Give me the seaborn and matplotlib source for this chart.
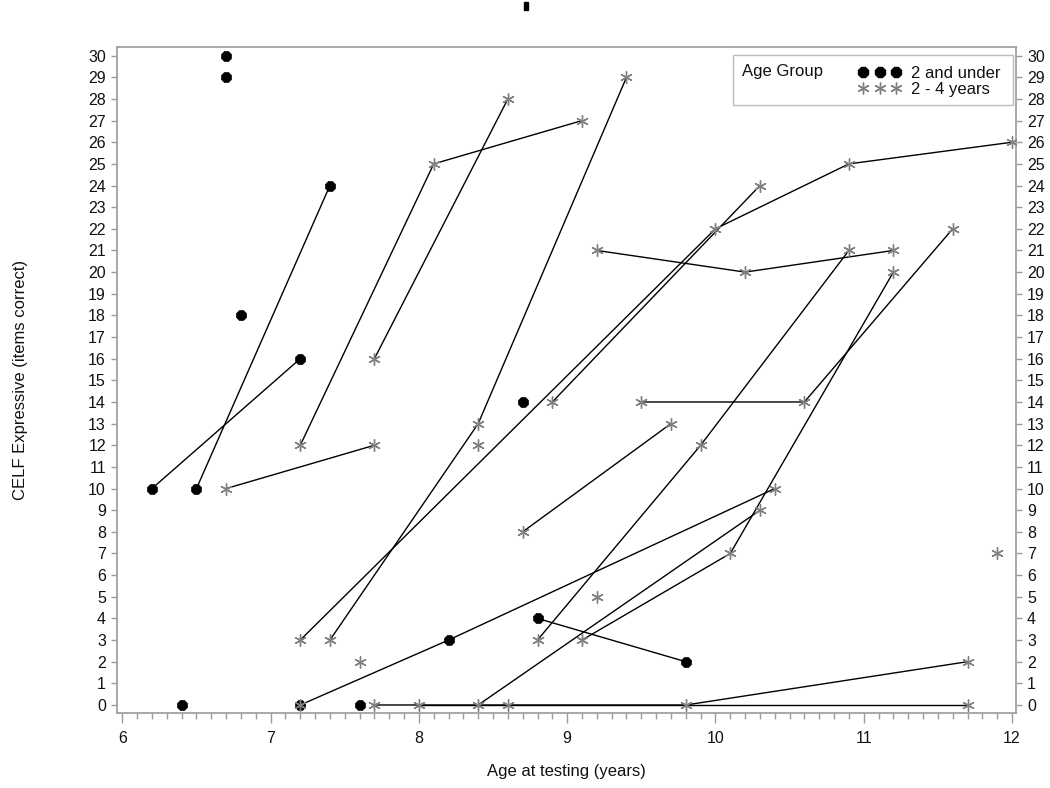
import matplotlib
matplotlib.use("Agg")
import matplotlib.pyplot as plt
from matplotlib.lines import Line2D
from matplotlib.patches import Rectangle
from matplotlib.ticker import MultipleLocator
import numpy as np
import pandas as pd
import seaborn as sns

# ---- data ----
subject = [1, 2, 3, 3, 4, 5, 5, 6, 7, 8,
           9, 9, 9, 10,
           11, 11, 12, 12, 12, 13, 13, 14, 14, 14, 15,
           16, 16, 16, 16, 17, 17, 18, 18, 18, 19, 19, 19,
           20, 20, 20, 21, 21, 22, 23, 24, 25, 25,
           26, 26, 26, 27, 27, 27, 28, 28, 28, 29, 29]
age = [6.7, 6.7, 6.5, 7.4, 6.8, 6.2, 7.2, 6.4, 7.6, 8.7,
       7.2, 8.2, 10.4, 7.2,
       6.7, 7.7, 7.2, 8.1, 9.1, 7.7, 8.6, 7.4, 8.4, 9.4, 8.4,
       7.2, 10.0, 10.9, 12.0, 8.9, 10.3, 9.2, 10.2, 11.2, 8.8, 9.9, 10.9,
       9.5, 10.6, 11.6, 8.7, 9.7, 9.2, 7.6, 11.9, 8.4, 10.3,
       9.1, 10.1, 11.2, 7.7, 9.8, 11.7, 8.0, 8.6, 11.7, 8.8, 9.8]
score = [30, 29, 10, 24, 18, 10, 16, 0, 0, 14,
         0, 3, 10, 0,
         10, 12, 12, 25, 27, 16, 28, 3, 13, 29, 12,
         3, 22, 25, 26, 14, 24, 21, 20, 21, 3, 12, 21,
         14, 14, 22, 8, 13, 5, 2, 7, 0, 9,
         3, 7, 20, 0, 0, 2, 0, 0, 0, 4, 2]
G1, G2 = "2 and under", "2 - 4 years"
group = [G1, G1, G1, G1, G1, G1, G1, G1, G1, G1,
         G1, G1, G2, G2,
         G2, G2, G2, G2, G2, G2, G2, G2, G2, G2, G2,
         G2, G2, G2, G2, G2, G2, G2, G2, G2, G2, G2, G2,
         G2, G2, G2, G2, G2, G2, G2, G2, G2, G2,
         G2, G2, G2, G2, G2, G2, G2, G2, G2, G1, G1]
legend_title = "Age Group"
x_label = "Age at testing (years)"
y_label = "CELF Expressive (items correct)"

df = pd.DataFrame({"subject": subject, "age": age, "score": score, "group": group})

sns.set_style("white")
plt.rcParams["font.family"] = ["Liberation Sans", "DejaVu Sans"]

fig = plt.figure(figsize=(10.5, 7.88), dpi=100)
ax = fig.add_axes([117 / 1050, 1 - 713 / 788, 899 / 1050, 666 / 788])

ast = (6, 2, 0)
gray = "#808080"

sns.lineplot(data=df, x="age", y="score", units="subject", estimator=None,
             sort=False, color="black", lw=1.0, ax=ax, legend=False)
d1 = df[df.group == G1]
d2 = df[df.group == G2]
sns.scatterplot(data=d1, x="age", y="score", marker="8", color="black",
                s=60, edgecolor="black", linewidth=0.5, ax=ax, legend=False, zorder=3)
sns.scatterplot(data=d2, x="age", y="score", marker=ast, color=gray,
                s=70, linewidth=1.0, ax=ax, legend=False, zorder=4)

ax.set_xlim(5.964, 12.027)
ax.set_ylim(-0.37, 30.40)
ax.xaxis.set_major_locator(MultipleLocator(1))
ax.xaxis.set_minor_locator(MultipleLocator(0.1))
ax.yaxis.set_major_locator(MultipleLocator(1))

spine_c = "#9a9a9a"
for s in ax.spines.values():
    s.set_color(spine_c)
    s.set_linewidth(1.2)

ax.tick_params(axis="x", which="major", direction="out", length=7, width=1,
               color=spine_c, labelsize=11.5, pad=6, labelcolor="#111111",
               bottom=True)
ax.tick_params(axis="x", which="minor", direction="out", length=4, width=1,
               color=spine_c, bottom=True)
ax.tick_params(axis="y", which="major", direction="out", length=4, width=1,
               color=spine_c, labelsize=11.5, pad=4, labelcolor="#111111",
               left=True, right=True, labelleft=True, labelright=True)

ax.set_xlabel(x_label, fontsize=12, color="#111111")
ax.set_ylabel(y_label, fontsize=12, color="#111111")
ax.xaxis.set_label_coords(0.5, -0.0765)
ax.yaxis.set_label_coords(-0.0989, 0.5)

# legend
handles = [Line2D([], [], marker="8", color="black", linestyle="none", markersize=7.5),
           Line2D([], [], marker=ast, color=gray, linestyle="none", markersize=8.5,
                  markeredgewidth=1.0)]
leg = ax.legend(handles, [G1, G2], numpoints=3, frameon=False, loc="upper right",
                bbox_to_anchor=(0.9833, 0.972), borderpad=0, borderaxespad=0,
                handlelength=2.6, handletextpad=0.6, fontsize=12, labelspacing=0.1)
for t in leg.get_texts():
    t.set_color("#111111")
ax.text(0.695, 0.9625, legend_title, transform=ax.transAxes, fontsize=12,
        va="center", ha="left", color="#111111")
ax.add_patch(Rectangle((0.685, 0.913), 0.3117, 0.075, transform=ax.transAxes,
                       fill=False, edgecolor="#bbbbbb", lw=1.0, zorder=5))

# small clipped title remnant at the top
fig.patches.append(Rectangle((524 / 1050, 1 - 10 / 788), 4 / 1050, 8 / 788,
                             transform=fig.transFigure, color="black"))

fig.savefig("out.png", dpi=100)
